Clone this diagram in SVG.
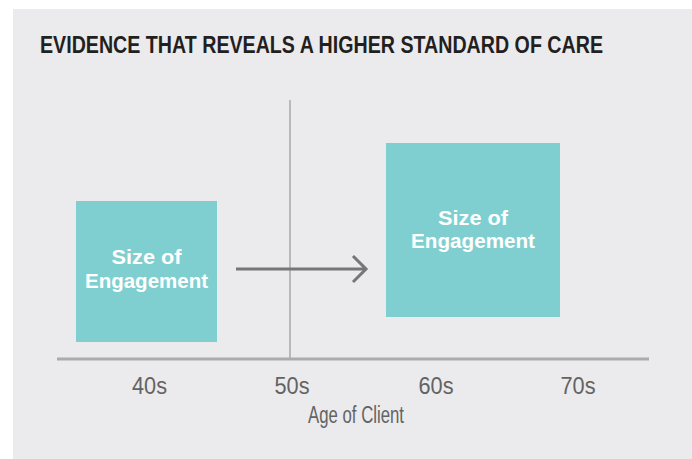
<svg xmlns="http://www.w3.org/2000/svg" width="692" height="459" viewBox="0 0 692 459">
<style>
.bg{fill:#ebebed}
.box{fill:#80cfd0}
.lbl{font-family:"Liberation Sans",Arial,sans-serif;font-weight:bold;font-size:21px;fill:#ffffff;text-anchor:middle}
.tick{font-family:"Liberation Sans",Arial,sans-serif;font-size:23px;fill:#636363;text-anchor:middle}
.axis{stroke:#ababab;stroke-width:3;fill:none}
.vline{stroke:#a8a8a8;stroke-width:1.5;fill:none}
.arrow{stroke:#767676;stroke-width:3;fill:none}
</style>
<rect x="0" y="0" width="692" height="459" fill="#ffffff"/>
<rect class="bg" x="13" y="9" width="679" height="450"/>
<text x="40" y="53" font-family="'Liberation Sans',Arial,sans-serif" font-weight="bold" font-size="23" fill="#231f20" textLength="563" lengthAdjust="spacingAndGlyphs">EVIDENCE THAT REVEALS A HIGHER STANDARD OF CARE</text>
<g id="connectors">
<line class="vline" x1="290" y1="100" x2="290" y2="359"/>
<line class="axis" x1="57" y1="359" x2="649" y2="359"/>
<path class="arrow" d="M236 269 H366 M353 256 L366 269 L353 282"/>
</g>
<g id="box-40s">
<rect class="box" x="76" y="201" width="141" height="141"/>
<text class="lbl" x="146.5" y="264" textLength="70" lengthAdjust="spacingAndGlyphs">Size of</text>
<text class="lbl" x="146.5" y="288" textLength="123" lengthAdjust="spacingAndGlyphs">Engagement</text>
</g>
<g id="box-60s">
<rect class="box" x="386" y="143" width="174" height="174"/>
<text class="lbl" x="473" y="225" textLength="70" lengthAdjust="spacingAndGlyphs">Size of</text>
<text class="lbl" x="473" y="248" textLength="124" lengthAdjust="spacingAndGlyphs">Engagement</text>
</g>
<g id="axis-labels">
<text class="tick" x="149.5" y="394" textLength="35" lengthAdjust="spacingAndGlyphs">40s</text>
<text class="tick" x="292" y="394" textLength="35" lengthAdjust="spacingAndGlyphs">50s</text>
<text class="tick" x="436" y="394" textLength="35" lengthAdjust="spacingAndGlyphs">60s</text>
<text class="tick" x="578" y="394" textLength="35" lengthAdjust="spacingAndGlyphs">70s</text>
<text class="tick" x="356" y="423" font-size="17" textLength="96" lengthAdjust="spacingAndGlyphs">Age of Client</text>
</g>
</svg>
